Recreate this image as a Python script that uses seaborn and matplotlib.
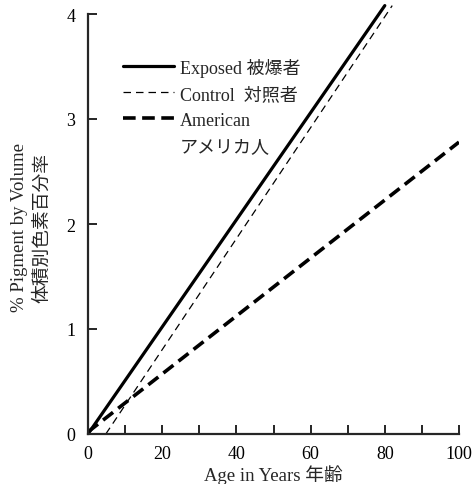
import numpy as np
import pandas as pd
import matplotlib
matplotlib.use("Agg")
import matplotlib.pyplot as plt
from matplotlib.lines import Line2D
import seaborn as sns

# ---- data ----
age_exposed = [0, 80]
pigment_exposed = [0.0, 4.08]
age_control = [4.8, 82]
pigment_control = [0.0, 4.08]
age_american = [0, 100]
pigment_american = [0.02, 2.78]

series_labels = ["Exposed 被爆者", "Control  対照者", "American"]
american_sub = "アメリカ人"
x_ticks = [0, 20, 40, 60, 80, 100]
x_minor = [10, 30, 50, 70, 90]
y_ticks = [0, 1, 2, 3, 4]

df = pd.concat([
    pd.DataFrame({"age": age_exposed, "pigment": pigment_exposed, "group": series_labels[0]}),
    pd.DataFrame({"age": age_control, "pigment": pigment_control, "group": series_labels[1]}),
    pd.DataFrame({"age": age_american, "pigment": pigment_american, "group": series_labels[2]}),
])

sns.set_style("ticks")
plt.rcParams["font.family"] = ["Liberation Serif", "Noto Sans CJK JP"]

fig = plt.figure(figsize=(4.74, 4.85), dpi=100)
ax = fig.add_axes([88 / 474, 50 / 485, 371 / 474, 430.5 / 485])

styles = {
    series_labels[0]: dict(lw=2.3, ls="-"),
    series_labels[1]: dict(lw=0.9, ls=(0, (6, 4))),
    series_labels[2]: dict(lw=2.6, ls=(0, (3.5, 1.8))),
}
handles = []
for g in series_labels:
    sub = df[df["group"] == g]
    sns.lineplot(data=sub, x="age", y="pigment", ax=ax, color="black",
                 linestyle=styles[g]["ls"], linewidth=styles[g]["lw"],
                 legend=False, sort=False)
    handles.append(Line2D([], [], color="black", linestyle=styles[g]["ls"],
                          linewidth=styles[g]["lw"]))
handles.append(Line2D([], [], color="none"))

ax.set_xlim(0, 100)
ax.set_ylim(0, 4.1)
ax.set_xticks(x_ticks)
ax.set_xticks(x_minor, minor=True)
ax.set_yticks(y_ticks)
ax.set_yticklabels([str(v) for v in y_ticks])
ax.spines["left"].set_bounds(0, 4)
ax.spines["top"].set_visible(False)
ax.spines["right"].set_visible(False)
for s in ("left", "bottom"):
    ax.spines[s].set_linewidth(1.6)
ax.tick_params(axis="both", which="both", direction="in", length=6.5,
               width=1.2, labelsize=13, colors="black")
ax.tick_params(axis="x", pad=8)
ax.tick_params(axis="y", pad=9)

ax.set_xlabel("Age in Years 年齢", fontsize=13.5)
ax.xaxis.set_label_coords(0.5, -0.07)
ax.set_ylabel("% Pigment by Volume\n体積別色素百分率", fontsize=13.5,
              linespacing=1.4)
ax.yaxis.set_label_coords(-0.1, 0.481)

ax.legend(handles, series_labels + [american_sub], loc="upper left",
          bbox_to_anchor=(0.095, 0.874), frameon=False, fontsize=13,
          handlelength=2.8, handletextpad=0.35, labelspacing=0.5,
          borderpad=0, borderaxespad=0)

fig.savefig("out.png", dpi=100)
